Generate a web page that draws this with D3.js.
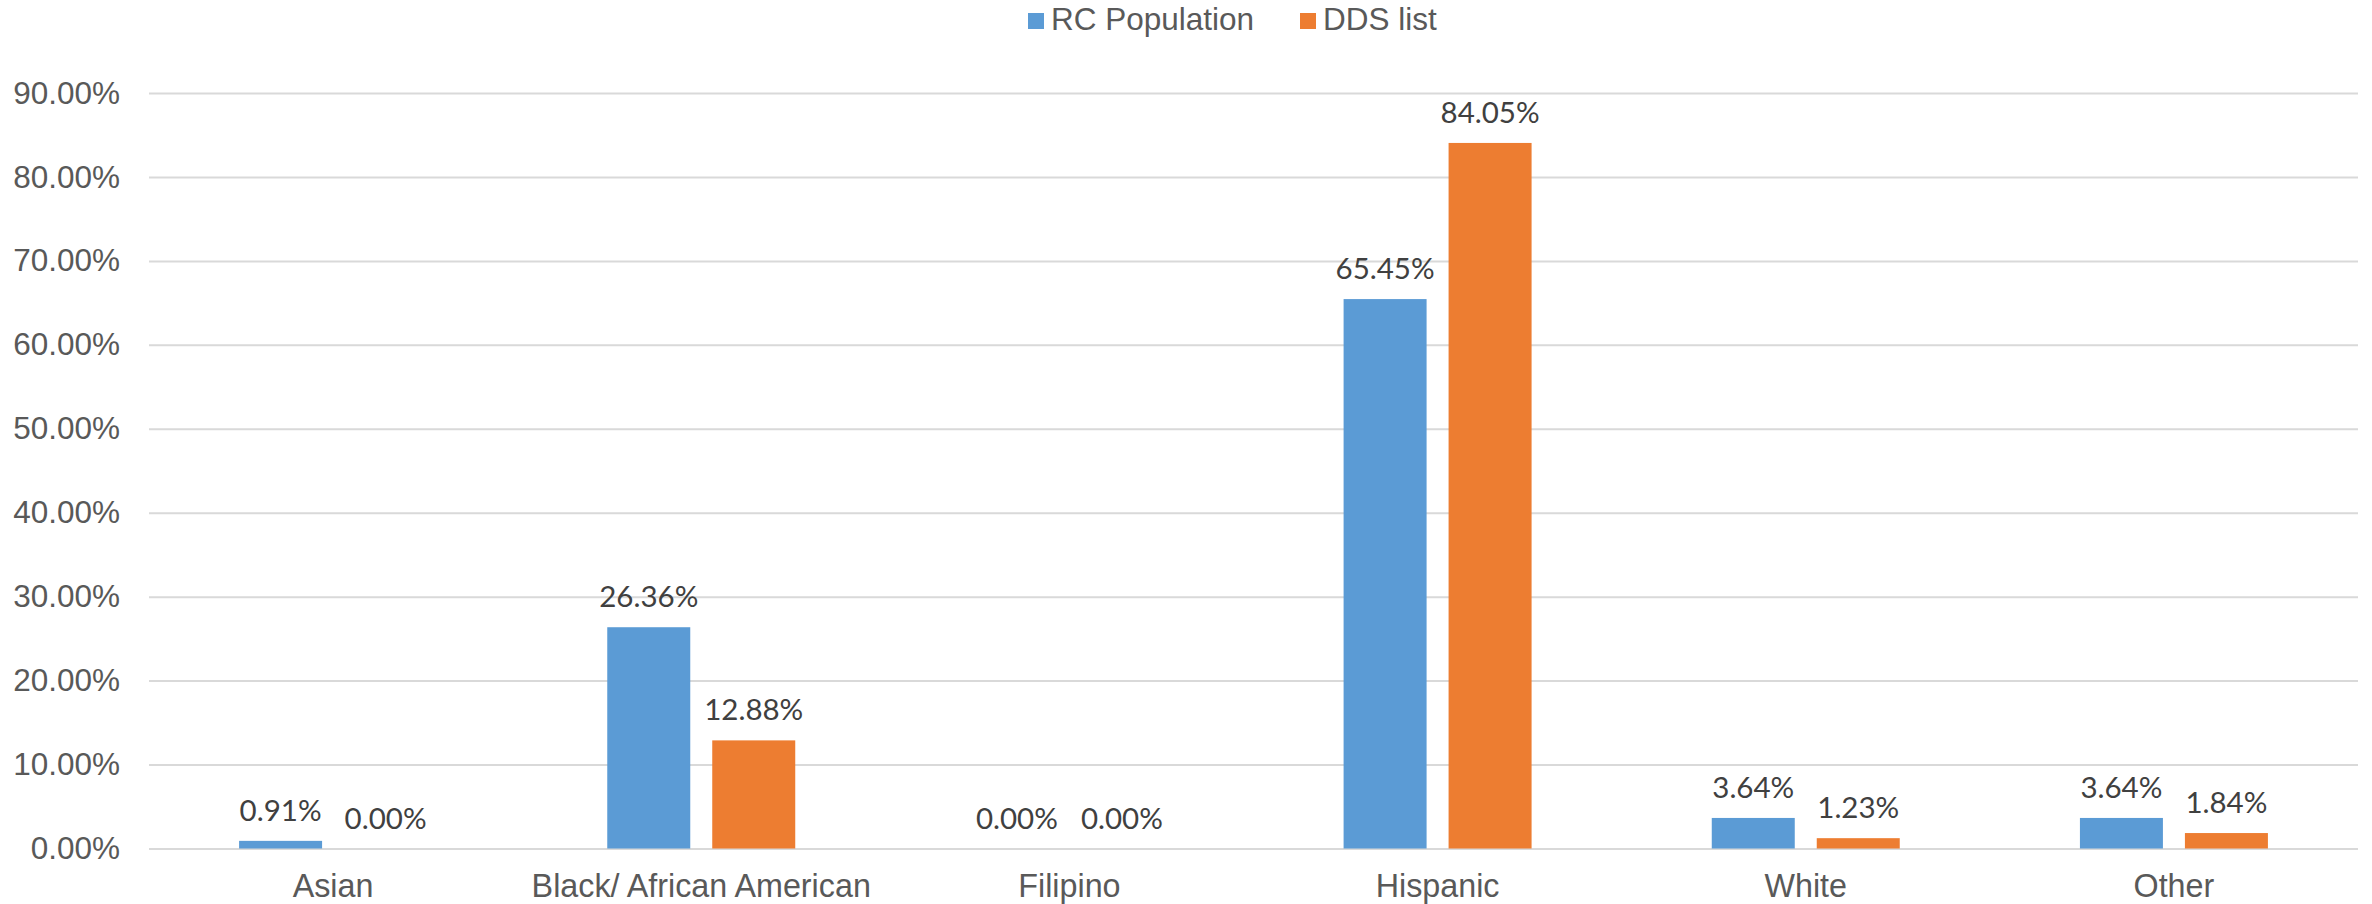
<!DOCTYPE html>
<html>
<head>
<meta charset="utf-8">
<script src="https://cdn.jsdelivr.net/npm/d3@7"></script>
<style>
  body { margin: 0; background: white; }
  #chart { width: 2372px; height: 904px; }
</style>
</head>
<body>
<div id="chart"></div>
<script>
// data
const categories = ["Asian", "Black/ African American", "Filipino", "Hispanic", "White", "Other"];
const seriesNames = ["RC Population", "DDS list"];
const rcPopulation = [0.91, 26.36, 0.00, 65.45, 3.64, 3.64];
const ddsList = [0.00, 12.88, 0.00, 84.05, 1.23, 1.84];
const yTicks = [0, 10, 20, 30, 40, 50, 60, 70, 80, 90];
const colors = ["#5B9BD5", "#ED7D31"];

const width = 2372, height = 904;
const plot = { left: 149, right: 2358, top: 93, bottom: 848.5 };

const svg = d3.select("#chart")
    .append("svg")
    .attr("width", width)
    .attr("height", height);

const x0 = d3.scaleBand()
    .domain(categories)
    .range([plot.left, plot.right])
    .paddingInner(0.4894)
    .paddingOuter(0.2447);

const x1 = d3.scaleBand()
    .domain(seriesNames)
    .range([0, x0.bandwidth()])
    .paddingInner(0.2095);

const y = d3.scaleLinear()
    .domain([0, 90])
    .range([plot.bottom, plot.top]);

// gridlines + y labels
const yAxis = svg.append("g")
    .attr("transform", `translate(${plot.left},0)`)
    .call(d3.axisLeft(y)
        .tickValues(yTicks)
        .tickSize(-(plot.right - plot.left))
        .tickPadding(29)
        .tickFormat(d => d.toFixed(2) + "%"));

yAxis.select(".domain").remove();
yAxis.selectAll(".tick line")
    .attr("stroke", "#d9d9d9")
    .attr("stroke-width", 2);
yAxis.selectAll(".tick text")
    .attr("fill", "#595959")
    .style("font-family", "'Liberation Sans', Arial, sans-serif")
    .style("font-size", "31.5px");

// bars
const rows = categories.map((c, i) => ({ cat: c, values: [rcPopulation[i], ddsList[i]] }));

const groups = svg.selectAll(".group")
    .data(rows)
    .enter().append("g")
    .attr("class", "group")
    .attr("transform", d => `translate(${x0(d.cat)},0)`);

groups.selectAll("rect")
    .data(d => d.values.map((v, j) => ({ name: seriesNames[j], value: v, j: j })))
    .enter().append("rect")
    .attr("x", d => x1(d.name))
    .attr("y", d => y(d.value))
    .attr("width", x1.bandwidth())
    .attr("height", d => y(0) - y(d.value))
    .attr("fill", d => colors[d.j]);

// value labels
groups.selectAll(".lbl")
    .data(d => d.values.map((v, j) => ({ name: seriesNames[j], value: v, j: j })))
    .enter().append("text")
    .attr("class", "lbl")
    .attr("x", d => x1(d.name) + x1.bandwidth() / 2)
    .attr("y", d => y(d.value) - 20)
    .attr("text-anchor", "middle")
    .attr("fill", "#404040")
    .style("font-family", "Lato, 'Open Sans', sans-serif")
    .style("font-size", "29.5px")
    .text(d => d.value.toFixed(2) + "%");

// x axis labels
svg.selectAll(".cat")
    .data(categories)
    .enter().append("text")
    .attr("class", "cat")
    .attr("x", d => x0(d) + x0.bandwidth() / 2)
    .attr("y", 897)
    .attr("text-anchor", "middle")
    .attr("fill", "#595959")
    .style("font-family", "'Liberation Sans', Arial, sans-serif")
    .style("font-size", "32.3px")
    .text(d => d);

// legend
const legendX = [1028, 1300];
const legend = svg.selectAll(".legend")
    .data(seriesNames)
    .enter().append("g")
    .attr("class", "legend")
    .attr("transform", (d, i) => `translate(${legendX[i]},0)`);

legend.append("rect")
    .attr("x", 0)
    .attr("y", 13)
    .attr("width", 16)
    .attr("height", 16)
    .attr("fill", (d, i) => colors[i]);

legend.append("text")
    .attr("x", 23)
    .attr("y", 30)
    .attr("fill", "#595959")
    .style("font-family", "'Liberation Sans', Arial, sans-serif")
    .style("font-size", "31.5px")
    .text(d => d);
</script>
</body>
</html>
